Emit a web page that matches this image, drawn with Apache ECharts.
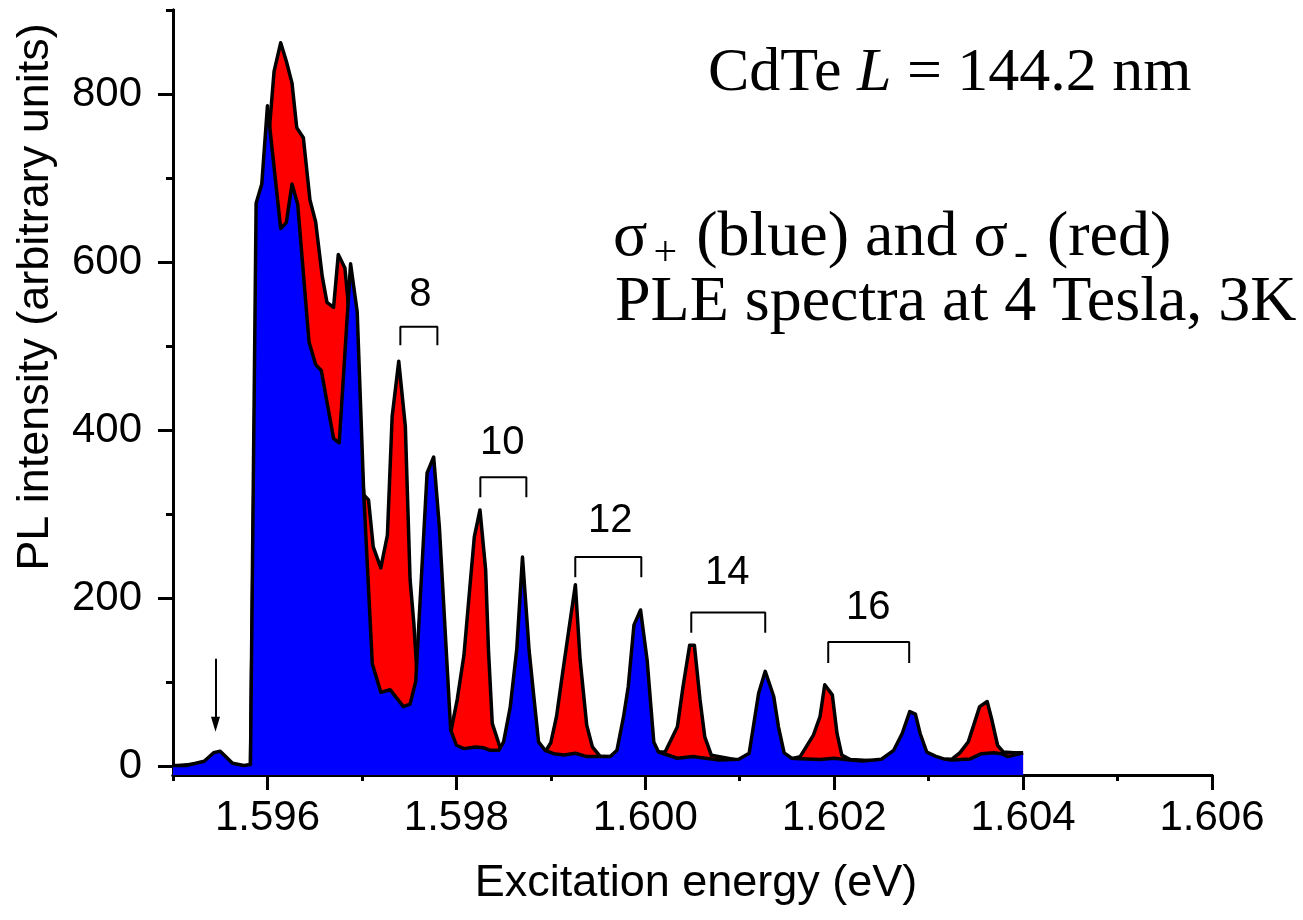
<!DOCTYPE html>
<html>
<head>
<meta charset="utf-8">
<script src="https://cdn.jsdelivr.net/npm/echarts@6/dist/echarts.min.js"></script>
<style>
html,body{margin:0;padding:0;background:#fff;}
#chart{width:1303px;height:920px;}
</style>
</head>
<body>
<div id="chart"></div>
<script>
// ---- data ----
const blueE = [1.59500,1.59515,1.59522,1.59533,1.59543,1.59550,1.59563,1.59575,1.59582,1.59588,1.59594,1.59600,1.59614,1.59620,1.59626,1.59632,1.59644,1.59651,1.59657,1.59670,1.59676,1.59688,1.59695,1.59702,1.59711,1.59720,1.59730,1.59744,1.59751,1.59757,1.59769,1.59776,1.59782,1.59794,1.59800,1.59808,1.59820,1.59829,1.59836,1.59845,1.59850,1.59857,1.59864,1.59870,1.59877,1.59882,1.59887,1.59894,1.59903,1.59914,1.59926,1.59938,1.59952,1.59963,1.59970,1.59977,1.59982,1.59988,1.59995,1.60002,1.60009,1.60014,1.60034,1.60051,1.60060,1.60078,1.60099,1.60110,1.60120,1.60127,1.60136,1.60141,1.60147,1.60155,1.60164,1.60185,1.60200,1.60217,1.60230,1.60250,1.60263,1.60272,1.60280,1.60286,1.60291,1.60298,1.60307,1.60316,1.60325,1.60344,1.60356,1.60369,1.60377,1.60384,1.60400];
const blueI = [1,1,3,6,16,18,3.5,1,2,670,693,786,640,647,693,669,505,478,471,390,385,598,541,323,122,88,91,71,74,101,349,368,285,43,25,21,23,22,19,19,29,70,140,249,138,83,29,19,15,13.5,15.5,11.5,11.5,11.5,19,59,95,168,186,126,29,17,9.5,11.5,10,7.5,8.3,15.5,87,113,83,47,16,9.5,9,8,9.5,7.5,6.3,8.3,19,39,65,62,39,17,12,8.7,7.5,8.7,15,16,15,11.5,16];

const redE = [1.59500,1.59533,1.59543,1.59550,1.59563,1.59575,1.59582,1.59588,1.59594,1.59600,1.59607,1.59614,1.59620,1.59626,1.59631,1.59638,1.59645,1.59651,1.59658,1.59663,1.59670,1.59675,1.59682,1.59695,1.59702,1.59707,1.59712,1.59720,1.59727,1.59732,1.59739,1.59746,1.59751,1.59755,1.59760,1.59770,1.59780,1.59794,1.59801,1.59808,1.59815,1.59819,1.59825,1.59831,1.59834,1.59838,1.59847,1.59870,1.59894,1.59900,1.59906,1.59912,1.59919,1.59926,1.59931,1.59938,1.59944,1.59952,1.59990,1.60014,1.60021,1.60034,1.60040,1.60047,1.60052,1.60058,1.60063,1.60070,1.60100,1.60130,1.60155,1.60164,1.60178,1.60185,1.60190,1.60198,1.60203,1.60208,1.60217,1.60250,1.60280,1.60316,1.60325,1.60333,1.60342,1.60354,1.60362,1.60367,1.60373,1.60379,1.60390,1.60400];
const redI = [0,4,13,15,2,0,0,560,640,730,827,861,839,813,760,748,674,648,583,552,546,609,593,440,323,317,261,236,275,416,482,404,222,170,80,60,50,40,80,132,222,273,305,234,138,51,20,17,17,28,59,107,162,216,127,49,23,12,10,17,17,47,95,144,144,79,35,13,7,8,9,11.5,37,59,97,85,39,13.5,8,6,7,8,8.7,16,29,71,77,55,25,17,16,16];

const xMajorTicks = [1.596,1.598,1.600,1.602,1.604,1.606];
const xMinorTicks = [1.595,1.597,1.599,1.601,1.603,1.605];
const yMajorTicks = [0,200,400,600,800];
const yMinorTicks = [100,300,500,700,900];

// bracket annotations (mode numbers)
const bracketLabels = ['8','10','12','14','16'];
const bracketLeft   = [1.597407,1.598254,1.599259,1.600487,1.601937];
const bracketRight  = [1.597799,1.598741,1.599958,1.601270,1.602794];
const bracketTop    = [523,344,249,183,148];
const bracketFoot   = [501,320,225,159,123];
const labelX        = [1.597619,1.598487,1.599630,1.600868,1.602360];
const labelY        = [561,385,292,230,188];

const arrowX = 1.59545, arrowFrom = 128, arrowTo = 50;

// ---- font check ----
function hasFont(name){
  const c = document.createElement('canvas').getContext('2d');
  const t = 'abcdefghijklmnopqrstuvwxyz0123456789';
  c.font = '40px monospace'; const a = c.measureText(t).width;
  c.font = '40px "' + name + '", monospace'; const b = c.measureText(t).width;
  return a !== b;
}
const narrow = hasFont('Liberation Sans Narrow');
const axisFont = narrow ? 'Liberation Sans Narrow' : 'Liberation Sans';
const tickSize = narrow ? 48 : 42;
const nameSize = narrow ? 53 : 45;
const serif = 'Liberation Serif';

const zip = (a,b) => a.map((v,i)=>[v,b[i]]);

const series = [
  {type:'line', name:'sigma-', data: zip(redE, redI), symbol:'none', silent:true,
   lineStyle:{color:'#000', width:3.5, join:'round'}, areaStyle:{color:'#ff0000', opacity:1, origin:'start'}, z:2},
  {type:'line', name:'sigma+', data: zip(blueE, blueI), symbol:'none', silent:true,
   lineStyle:{color:'#000', width:3.5, join:'round'}, areaStyle:{color:'#0000ff', opacity:1, origin:'start'}, z:3}
];
bracketLabels.forEach((lab,i)=>{
  series.push({type:'line', symbol:'none', silent:true, z:4,
    data:[[bracketLeft[i],bracketFoot[i]],[bracketLeft[i],bracketTop[i]],[bracketRight[i],bracketTop[i]],[bracketRight[i],bracketFoot[i]]],
    lineStyle:{color:'#000', width:2}});
});
series.push({type:'scatter', symbolSize:0, silent:true, z:5,
  data: bracketLabels.map((l,i)=>({name:l, value:[labelX[i], labelY[i]]})),
  label:{show:true, position:'inside', formatter:'{b}', fontSize:40, fontFamily:'Liberation Sans',
    color:'#000000', opacity:1, textBorderWidth:0, textShadowBlur:0}});
series.push({type:'line', data:[], silent:true, z:5,
  markLine:{silent:true, symbol:['none','triangle'], symbolSize:[9,15], animation:false,
    lineStyle:{color:'#000', width:2, type:'solid'}, label:{show:false},
    data:[[{coord:[arrowX, arrowFrom]},{coord:[arrowX, arrowTo]}]]}});

const axisLineStyle = {color:'#000', width:3};
const option = {
  animation:false,
  backgroundColor:'#fff',
  grid:{left:173, right:91, top:10, bottom:145, containLabel:false},
  xAxis:[
    {type:'value', min:1.595, max:1.606, position:'bottom',
     axisLine:{show:true, onZero:false, lineStyle:axisLineStyle},
     axisTick:{show:true, customValues:xMajorTicks, length:15, lineStyle:axisLineStyle},
     axisLabel:{show:true, customValues:xMajorTicks, margin:22, fontSize:tickSize, fontFamily:axisFont, color:'#000',
       formatter:v=>v.toFixed(3)},
     splitLine:{show:false}},
    {type:'value', min:1.595, max:1.606, position:'bottom',
     axisLine:{show:true, onZero:false, lineStyle:axisLineStyle},
     axisTick:{show:true, customValues:xMinorTicks, length:6, lineStyle:axisLineStyle},
     axisLabel:{show:false}, splitLine:{show:false}}
  ],
  yAxis:[
    {type:'value', min:-10.4, max:900, position:'left',
     axisLine:{show:true, onZero:false, lineStyle:axisLineStyle},
     axisTick:{show:true, customValues:yMajorTicks, length:15, lineStyle:axisLineStyle},
     axisLabel:{show:true, customValues:yMajorTicks, margin:31, fontSize:tickSize, fontFamily:axisFont, color:'#000',
       padding:[0,0,10,0]},
     splitLine:{show:false}},
    {type:'value', min:-10.4, max:900, position:'left',
     axisLine:{show:true, onZero:false, lineStyle:axisLineStyle},
     axisTick:{show:true, customValues:yMinorTicks, length:7, lineStyle:axisLineStyle},
     axisLabel:{show:false}, splitLine:{show:false}}
  ],
  series: series,
  graphic:[
    {type:'text', x:708, y:74, silent:true,
     style:{text:'{n|CdTe }{i|L}{n| = 144.2 nm}', verticalAlign:'middle', fill:'#000',
       rich:{n:{fontFamily:serif, fontSize:62, fill:'#000'}, i:{fontFamily:serif, fontSize:62, fontStyle:'italic', fill:'#000'}}}},
    {type:'text', x:613, y:238, silent:true,
     style:{text:'{n|σ}{s|+}{n| (blue) and σ}{s|-}{n| (red)}', verticalAlign:'middle', fill:'#000',
       rich:{n:{fontFamily:serif, fontSize:64, lineHeight:74, fill:'#000'},
             s:{fontFamily:serif, fontSize:42, lineHeight:40, verticalAlign:'bottom', padding:[0,3,0,6], fill:'#000'}}}},
    {type:'text', x:615, y:303, silent:true,
     style:{text:'PLE spectra at 4 Tesla, 3K', verticalAlign:'middle', fill:'#000', font:'64px "Liberation Serif"'}},
    {type:'text', x:696, y:884, silent:true,
     style:{text:'Excitation energy (eV)', align:'center', verticalAlign:'middle', fill:'#000',
       font: nameSize + 'px "' + axisFont + '"'}},
    {type:'text', x:36, y:297, rotation:Math.PI/2, silent:true,
     style:{text:'PL intensity (arbitrary units)', align:'center', verticalAlign:'middle', fill:'#000',
       font: nameSize + 'px "' + axisFont + '"'}}
  ]
};
const chart = echarts.init(document.getElementById('chart'), null, {renderer:'canvas'});
chart.setOption(option);
</script>
</body>
</html>
